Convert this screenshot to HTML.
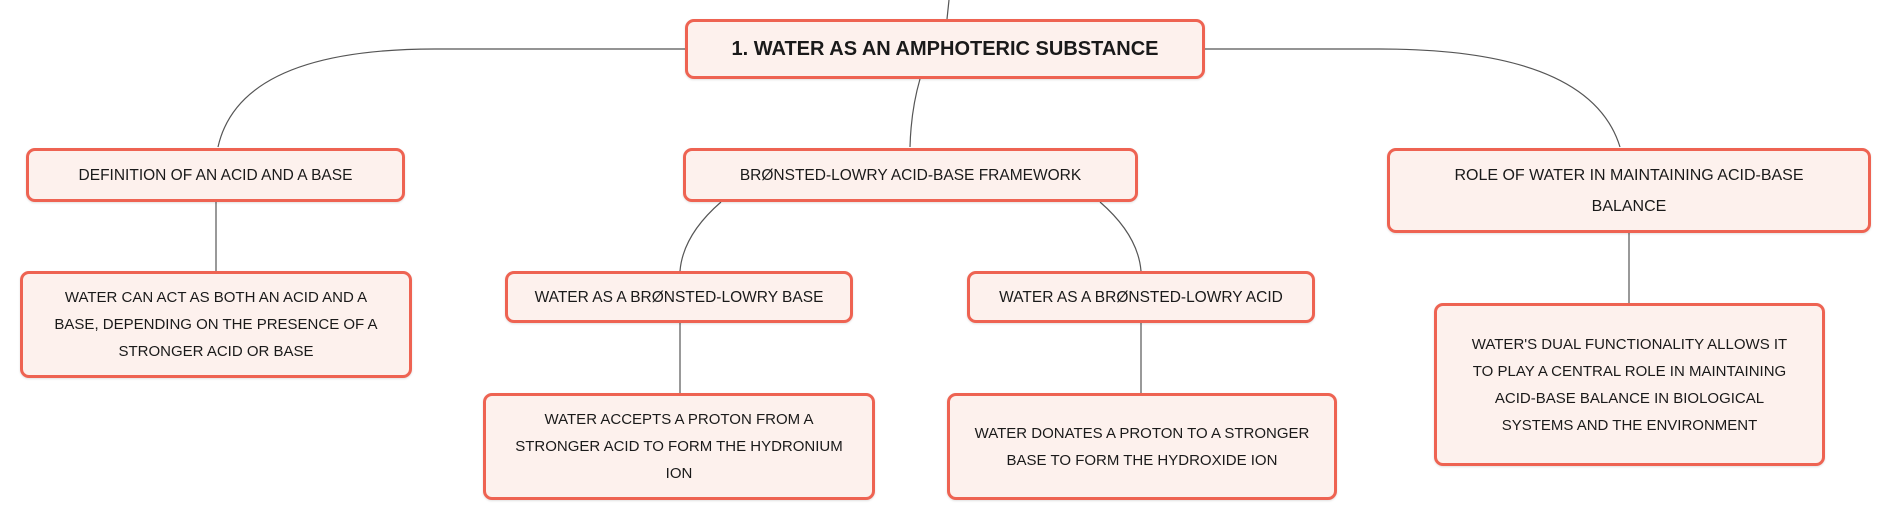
<!DOCTYPE html>
<html><head><meta charset="utf-8"><style>
body{margin:0;width:1892px;height:520px;background:#fff;position:relative;overflow:hidden;font-family:"Liberation Sans",sans-serif;}
.b{position:absolute;box-sizing:border-box;border:3px solid #ee6352;border-radius:9px;background:#fdf1ed;display:flex;align-items:center;justify-content:center;text-align:center;color:#1a1a1a;font-size:15.5px;line-height:27px;padding:0 4px;white-space:nowrap;box-shadow:0 1px 2px rgba(0,0,0,.12);}
svg{position:absolute;left:0;top:0;}
</style></head><body>
<svg width="1892" height="520" fill="none" stroke="#555" stroke-width="1.2">
<path d="M949 0 L947 19"/>
<path d="M685 49 L435 49 Q240 49 218 147"/>
<path d="M1205 49 L1380 49 Q1590 49 1620 147"/>
<path d="M920 79 Q911 110 910 147"/>
<path d="M216 202 L216 271"/>
<path d="M721 202 Q683 235 680 271"/>
<path d="M680 323 L680 393"/>
<path d="M1100 202 Q1138 235 1141 271"/>
<path d="M1141 323 L1141 393"/>
<path d="M1629 233 L1629 303"/>
</svg>
<div class="b" style="left:685px;top:19px;width:520px;height:60px;font-weight:bold;font-size:20px;">1. WATER AS AN AMPHOTERIC SUBSTANCE</div>
<div class="b" style="left:26px;top:148px;width:379px;height:54px;">DEFINITION OF AN ACID AND A BASE</div>
<div class="b" style="left:683px;top:148px;width:455px;height:54px;">BRØNSTED-LOWRY ACID-BASE FRAMEWORK</div>
<div class="b" style="left:1387px;top:148px;width:484px;height:85px;font-size:16px;line-height:31px;">ROLE OF WATER IN MAINTAINING ACID-BASE<br>BALANCE</div>
<div class="b" style="left:20px;top:271px;width:392px;height:107px;font-size:15px;">WATER CAN ACT AS BOTH AN ACID AND A<br>BASE, DEPENDING ON THE PRESENCE OF A<br>STRONGER ACID OR BASE</div>
<div class="b" style="left:505px;top:271px;width:348px;height:52px;">WATER AS A BRØNSTED-LOWRY BASE</div>
<div class="b" style="left:967px;top:271px;width:348px;height:52px;">WATER AS A BRØNSTED-LOWRY ACID</div>
<div class="b" style="left:483px;top:393px;width:392px;height:107px;font-size:15px;">WATER ACCEPTS A PROTON FROM A<br>STRONGER ACID TO FORM THE HYDRONIUM<br>ION</div>
<div class="b" style="left:947px;top:393px;width:390px;height:107px;font-size:15px;">WATER DONATES A PROTON TO A STRONGER<br>BASE TO FORM THE HYDROXIDE ION</div>
<div class="b" style="left:1434px;top:303px;width:391px;height:163px;font-size:15px;">WATER'S DUAL FUNCTIONALITY ALLOWS IT<br>TO PLAY A CENTRAL ROLE IN MAINTAINING<br>ACID-BASE BALANCE IN BIOLOGICAL<br>SYSTEMS AND THE ENVIRONMENT</div>
</body></html>
